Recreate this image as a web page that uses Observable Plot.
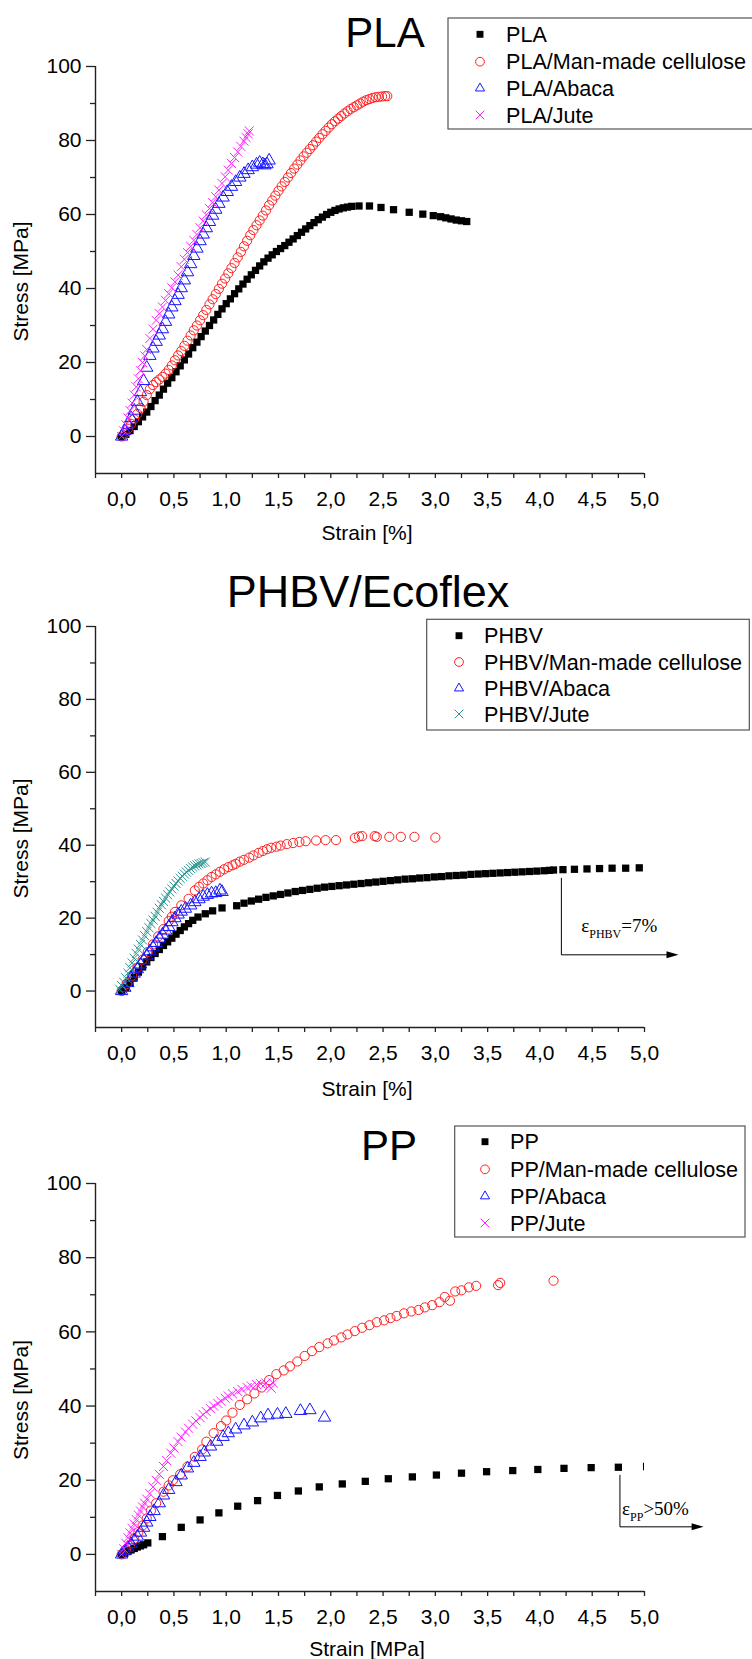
<!DOCTYPE html>
<html><head><meta charset="utf-8">
<script src="https://cdn.jsdelivr.net/npm/d3@7"></script>
<script src="https://cdn.jsdelivr.net/npm/@observablehq/plot@0.6"></script>
<style>
body{margin:0;background:#fff}
#root{position:relative;width:752px;height:1659px;overflow:hidden;background:#fff;font-family:"Liberation Sans",Arial,sans-serif}
#root svg{position:absolute;left:0}
</style></head><body><div id="root"></div>
<script>
// ---------- tick labels ----------
const xMajorTicks = [0, 0.5, 1, 1.5, 2, 2.5, 3, 3.5, 4, 4.5, 5];
const xMinorTicks = [-0.25, 0.25, 0.75, 1.25, 1.75, 2.25, 2.75, 3.25, 3.75, 4.25, 4.75];
const yMajorTicks = [0, 20, 40, 60, 80, 100];
const yMinorTicks = [10, 30, 50, 70, 90];

// ---------- titles / labels ----------
const panelTitles = ["PLA", "PHBV/Ecoflex", "PP"];
const xAxisLabels = ["Strain [%]", "Strain [%]", "Strain [MPa]"];
const yAxisLabel = "Stress [MPa]";
const legendPLA = ["PLA", "PLA/Man-made cellulose", "PLA/Abaca", "PLA/Jute"];
const legendPHBV = ["PHBV", "PHBV/Man-made cellulose", "PHBV/Abaca", "PHBV/Jute"];
const legendPP = ["PP", "PP/Man-made cellulose", "PP/Abaca", "PP/Jute"];

// ---------- PLA panel ----------
const plaNeat = [[0,0],[0.04,0.6],[0.08,1.6],[0.12,2.7],[0.16,4.0],[0.20,5.3],[0.24,6.6],[0.28,8.1],[0.32,9.7],[0.36,11.2],[0.40,12.8],[0.44,14.4],[0.48,15.9],[0.52,17.5],[0.56,19.1],[0.60,20.7],[0.64,22.3],[0.68,24.0],[0.72,25.5],[0.76,27.0],[0.80,28.5],[0.84,30.0],[0.88,31.5],[0.92,33.0],[0.96,34.5],[1.00,35.9],[1.04,37.2],[1.08,38.6],[1.12,39.9],[1.16,41.2],[1.20,42.5],[1.24,43.7],[1.28,44.9],[1.32,46.1],[1.36,47.2],[1.40,48.2],[1.44,49.1],[1.48,50.0],[1.52,50.8],[1.56,51.6],[1.60,52.5],[1.64,53.4],[1.68,54.3],[1.72,55.2],[1.76,56.1],[1.80,57.0],[1.84,57.8],[1.88,58.6],[1.92,59.3],[1.96,60.0],[2.00,60.6],[2.04,61.1],[2.08,61.5],[2.12,61.8],[2.16,62.0],[2.20,62.2],[2.27,62.3],[2.37,62.3],[2.48,61.9],[2.60,61.3],[2.75,60.6],[2.88,60.1],[2.98,59.7],[3.05,59.4],[3.10,59.1],[3.15,58.8],[3.20,58.5],[3.25,58.3],[3.30,58.1]];
const plaCellulose = [[0,0],[0.03,0.9],[0.06,2.1],[0.09,3.4],[0.12,4.7],[0.15,6.1],[0.18,7.7],[0.21,9.4],[0.24,11.2],[0.27,12.8],[0.30,13.9],[0.33,14.7],[0.36,15.4],[0.39,16.1],[0.42,17.0],[0.45,18.0],[0.48,19.2],[0.51,20.6],[0.54,21.9],[0.57,23.1],[0.60,24.5],[0.63,25.9],[0.66,27.3],[0.69,28.7],[0.72,30.0],[0.75,31.4],[0.78,32.8],[0.81,34.2],[0.84,35.7],[0.87,37.1],[0.90,38.5],[0.93,39.9],[0.96,41.3],[0.99,42.7],[1.02,44.1],[1.05,45.5],[1.08,46.9],[1.11,48.4],[1.14,49.9],[1.17,51.4],[1.20,52.9],[1.23,54.4],[1.26,55.8],[1.29,57.1],[1.32,58.4],[1.35,59.7],[1.38,61.1],[1.41,62.5],[1.44,63.8],[1.47,65.1],[1.50,66.4],[1.53,67.6],[1.56,68.8],[1.59,70.0],[1.62,71.2],[1.65,72.4],[1.68,73.5],[1.71,74.6],[1.74,75.7],[1.77,76.7],[1.80,77.7],[1.83,78.7],[1.86,79.7],[1.89,80.7],[1.92,81.7],[1.95,82.6],[1.98,83.5],[2.01,84.4],[2.04,85.2],[2.07,85.9],[2.10,86.6],[2.13,87.3],[2.16,87.9],[2.19,88.5],[2.22,89.0],[2.25,89.5],[2.28,90.0],[2.31,90.5],[2.34,90.9],[2.37,91.2],[2.40,91.5],[2.43,91.7],[2.46,91.8],[2.49,91.9],[2.52,92.0],[2.54,92.0]];
const plaAbaca = [[0,0],[0.03,1.5],[0.06,3.2],[0.09,5.0],[0.12,7.0],[0.15,9.4],[0.18,12.0],[0.21,15.0],[0.24,18.6],[0.27,21.8],[0.30,23.8],[0.33,25.6],[0.36,27.3],[0.39,29.0],[0.42,31.0],[0.45,33.0],[0.48,34.9],[0.51,36.6],[0.54,38.3],[0.57,40.1],[0.60,42.2],[0.63,44.4],[0.66,46.6],[0.69,48.8],[0.72,50.8],[0.75,52.8],[0.78,54.6],[0.81,56.3],[0.84,58.0],[0.87,59.7],[0.90,61.3],[0.93,62.9],[0.97,64.6],[1.01,66.1],[1.05,67.5],[1.09,68.8],[1.13,70.0],[1.17,71.0],[1.21,72.0],[1.25,72.8],[1.29,73.5],[1.32,74.0],[1.35,73.6],[1.37,73.3],[1.39,73.6],[1.41,74.6]];
const plaJute = [[0,0],[0.02,1.5],[0.04,3.2],[0.06,5.0],[0.08,7.0],[0.10,9.0],[0.12,11.2],[0.14,13.4],[0.16,15.6],[0.18,17.8],[0.20,20.0],[0.22,21.8],[0.24,23.5],[0.27,26.5],[0.30,29.0],[0.33,31.4],[0.36,33.2],[0.39,35.0],[0.42,36.8],[0.45,38.6],[0.48,40.2],[0.51,41.8],[0.54,43.6],[0.57,45.9],[0.60,47.9],[0.63,49.7],[0.66,51.4],[0.69,53.0],[0.72,54.6],[0.75,56.4],[0.78,58.2],[0.81,59.9],[0.84,61.6],[0.87,63.2],[0.90,64.8],[0.93,66.6],[0.96,68.4],[0.99,70.2],[1.02,72.0],[1.05,73.8],[1.08,75.4],[1.11,76.9],[1.14,78.4],[1.17,79.8],[1.19,80.8],[1.21,81.8],[1.22,82.6]];

// ---------- PHBV panel ----------
const phbvNeat = [[0,0],[0.04,1.0],[0.08,2.3],[0.12,3.8],[0.16,5.2],[0.20,6.6],[0.24,8.0],[0.28,9.2],[0.32,10.3],[0.36,11.4],[0.40,12.5],[0.44,13.5],[0.48,14.5],[0.52,15.6],[0.56,16.6],[0.60,17.6],[0.64,18.5],[0.68,19.4],[0.73,20.3],[0.80,21.2],[0.87,22.0],[0.96,22.8],[1.10,23.4],[1.17,24.1],[1.24,24.7],[1.31,25.2],[1.38,25.7],[1.45,26.1],[1.52,26.5],[1.59,26.9],[1.66,27.3],[1.73,27.6],[1.80,27.9],[1.87,28.2],[1.94,28.5],[2.01,28.7],[2.08,28.9],[2.15,29.1],[2.22,29.3],[2.29,29.5],[2.36,29.7],[2.43,29.9],[2.50,30.1],[2.57,30.3],[2.64,30.5],[2.71,30.7],[2.78,30.8],[2.85,31.0],[2.92,31.1],[2.99,31.3],[3.06,31.4],[3.13,31.6],[3.20,31.7],[3.27,31.8],[3.34,32.0],[3.41,32.1],[3.48,32.2],[3.55,32.3],[3.62,32.4],[3.69,32.5],[3.76,32.6],[3.83,32.7],[3.90,32.8],[3.97,32.9],[4.04,33.0],[4.09,33.1],[4.13,33.2],[4.22,33.3],[4.33,33.4],[4.45,33.5],[4.57,33.6],[4.69,33.7],[4.82,33.7],[4.95,33.8]];
const phbvCellulose = [[0,0],[0.05,2.0],[0.10,4.2],[0.15,6.4],[0.20,8.6],[0.25,10.7],[0.30,12.8],[0.35,15.0],[0.40,17.0],[0.45,19.2],[0.48,20.4],[0.51,21.7],[0.57,23.5],[0.64,25.3],[0.70,27.6],[0.74,28.6],[0.78,29.5],[0.82,30.4],[0.86,31.3],[0.90,32.0],[0.94,32.7],[0.98,33.4],[1.02,34.0],[1.06,34.5],[1.09,34.9],[1.13,35.5],[1.17,36.0],[1.22,36.6],[1.26,37.2],[1.31,37.9],[1.35,38.4],[1.39,38.9],[1.43,39.3],[1.48,39.6],[1.52,39.9],[1.58,40.3],[1.64,40.6],[1.70,40.9],[1.76,41.1],[1.86,41.3],[1.95,41.4],[2.05,41.4],[2.23,42.0],[2.27,42.4],[2.30,42.5],[2.42,42.5],[2.44,42.3],[2.56,42.3],[2.67,42.3],[2.80,42.3],[3.00,42.1]];
const phbvAbaca = [[0,0],[0.03,0.9],[0.06,2.2],[0.09,3.6],[0.12,4.8],[0.15,6.0],[0.18,7.3],[0.21,8.5],[0.24,9.7],[0.27,10.9],[0.30,12.0],[0.33,13.2],[0.36,14.4],[0.39,15.5],[0.42,16.6],[0.45,17.6],[0.48,18.9],[0.51,20.0],[0.54,21.0],[0.57,21.8],[0.61,22.6],[0.66,23.5],[0.70,24.4],[0.74,25.2],[0.78,25.9],[0.82,26.4],[0.86,26.8],[0.90,26.9],[0.94,27.6],[0.96,27.2]];
const phbvJute = [[-0.02,0.5],[0,1.5],[0.02,2.4],[0.04,3.6],[0.06,4.9],[0.08,6.4],[0.10,7.7],[0.12,9.0],[0.14,10.3],[0.16,11.5],[0.18,12.8],[0.20,14.0],[0.22,15.2],[0.24,16.3],[0.26,17.4],[0.28,18.5],[0.30,19.5],[0.32,20.5],[0.34,21.6],[0.36,22.7],[0.38,23.7],[0.40,24.6],[0.42,25.5],[0.44,26.4],[0.46,27.2],[0.48,28.0],[0.50,28.8],[0.52,29.5],[0.54,30.2],[0.56,30.9],[0.58,31.5],[0.60,32.1],[0.62,32.6],[0.64,33.1],[0.66,33.6],[0.68,34.0],[0.70,34.3],[0.72,34.6],[0.74,34.9],[0.76,35.0],[0.78,35.2],[0.80,35.4]];

// ---------- PP panel ----------
const ppNeat = [[0,0],[0.03,0.3],[0.06,0.8],[0.09,1.2],[0.12,1.6],[0.15,2.0],[0.18,2.3],[0.21,2.6],[0.25,3.1],[0.39,4.8],[0.57,7.3],[0.75,9.3],[0.93,11.2],[1.11,13.0],[1.30,14.5],[1.49,15.9],[1.69,17.1],[1.89,18.2],[2.11,19.0],[2.33,19.7],[2.55,20.4],[2.78,20.9],[3.01,21.4],[3.25,21.9],[3.49,22.3],[3.74,22.6],[3.98,22.9],[4.23,23.2],[4.49,23.4],[4.75,23.5],[5.02,23.7]];
const ppCellulose = [[0,0],[0.04,1.2],[0.08,2.6],[0.12,4.2],[0.16,6.0],[0.20,7.8],[0.24,9.7],[0.28,11.8],[0.33,13.8],[0.40,16.9],[0.45,18.6],[0.49,20.0],[0.56,21.6],[0.63,23.7],[0.70,26.3],[0.77,28.3],[0.81,30.4],[0.88,32.7],[0.95,34.6],[1.00,36.1],[1.06,38.2],[1.13,40.3],[1.20,41.8],[1.27,43.4],[1.34,45.0],[1.41,47.0],[1.48,48.6],[1.55,49.6],[1.61,50.7],[1.68,52.0],[1.75,53.5],[1.82,54.8],[1.89,55.9],[1.97,56.9],[2.03,57.7],[2.10,58.5],[2.16,59.3],[2.23,60.2],[2.30,61.1],[2.37,61.8],[2.44,62.6],[2.51,63.1],[2.57,63.7],[2.63,64.3],[2.70,65.0],[2.77,65.5],[2.84,65.9],[2.90,66.6],[2.97,67.2],[3.04,68.0],[3.09,69.4],[3.14,68.4],[3.19,70.9],[3.25,71.2],[3.32,72.0],[3.39,72.4],[3.60,72.6],[3.62,73.2],[4.13,73.8]];
const ppAbaca = [[0,0],[0.03,0.9],[0.06,1.8],[0.09,2.8],[0.12,3.8],[0.15,4.8],[0.18,5.9],[0.21,7.2],[0.24,8.6],[0.27,10.1],[0.31,11.7],[0.36,13.8],[0.40,15.9],[0.45,17.4],[0.52,19.5],[0.57,21.3],[0.63,23.2],[0.69,24.7],[0.75,26.3],[0.79,27.5],[0.85,29.1],[0.91,30.4],[0.97,31.7],[1.02,32.7],[1.09,33.7],[1.17,34.8],[1.25,35.6],[1.33,36.7],[1.40,37.5],[1.49,37.7],[1.57,37.9],[1.71,38.7],[1.80,38.9],[1.94,36.9]];
const ppJute = [[0,0],[0.02,1.5],[0.04,3.0],[0.06,4.5],[0.08,5.8],[0.10,7.0],[0.12,8.2],[0.14,9.4],[0.16,10.6],[0.18,11.7],[0.20,12.8],[0.22,13.8],[0.24,14.9],[0.27,16.4],[0.30,18.2],[0.33,20.0],[0.36,21.6],[0.40,23.7],[0.43,25.3],[0.47,27.3],[0.50,28.7],[0.54,30.4],[0.57,31.6],[0.61,33.0],[0.64,34.0],[0.68,35.1],[0.71,36.0],[0.75,36.9],[0.78,37.7],[0.81,38.5],[0.85,39.3],[0.88,40.0],[0.92,40.7],[0.95,41.3],[0.99,42.1],[1.02,42.7],[1.06,43.3],[1.11,43.9],[1.15,44.5],[1.20,45.0],[1.24,45.4],[1.29,45.8],[1.33,46.0],[1.38,46.2],[1.41,45.4],[1.43,44.8],[1.45,46.2]];

// ---------- annotations: [x, yTop, yBottom, xArrowEnd, xText, yText] ----------
const annotPHBV = [4.21, 30.9, 9.8, 5.33, 4.40, 16.0];
const annotPP = [4.77, 21.3, 7.3, 5.57, 4.79, 10.4];
const annotPHBVText = ["ε", "PHBV", "=7%"];
const annotPPText = ["ε", "PP", ">50%"];

// ---------- styles ----------
const styles = [
  {symbol: "square", r: 4.1, fill: "#000", stroke: "none"},
  {symbol: "circle", r: 4.6, fill: "none", stroke: "#ff2020"},
  {symbol: "triangle", r: 4.6, fill: "none", stroke: "#1515ff"},
  {symbol: "times", r: 4.2, fill: "none", stroke: "#ff20ff"}
];
const tealStyle = {symbol: "times", r: 4.2, fill: "none", stroke: "#2a9590"};

const panels = [
  {top: 0, height: 545, mt: 66, mb: 72, series: [plaNeat, plaCellulose, plaAbaca, plaJute], sty: styles,
   title: panelTitles[0], titleX: 385, titleY: 47, titleSize: 42, xlab: xAxisLabels[0], xlabY: 540, ylabShift: 12,
   legend: legendPLA, box: [448, 18, 762, 129], symX: 480, txtX: 506, rows: [34.3, 61.7, 88.3, 115]},
  {top: 560, height: 545, mt: 66, mb: 78, series: [phbvNeat, phbvCellulose, phbvAbaca, phbvJute], sty: [styles[0], styles[1], styles[2], tealStyle],
   title: panelTitles[1], titleX: 368, titleY: 606.5, titleSize: 45, xlab: xAxisLabels[1], xlabY: 1096, ylabShift: 12,
   legend: legendPHBV, box: [426.7, 619.3, 749.3, 730], symX: 459, txtX: 484, rows: [635.7, 662, 688.3, 714],
   annot: annotPHBV, annotText: annotPHBVText},
  {top: 1110, height: 549, mt: 73, mb: 68, series: [ppNeat, ppCellulose, ppAbaca, ppJute], sty: styles,
   title: panelTitles[2], titleX: 389, titleY: 1160, titleSize: 42, xlab: xAxisLabels[2], xlabY: 1656, ylabShift: 13,
   legend: legendPP, box: [454.7, 1126, 745, 1237], symX: 485, txtX: 510, rows: [1141.7, 1169.3, 1196.2, 1223],
   annot: annotPP, annotText: annotPPText}
];

const fmt = d => d.toFixed(1).replace(".", ",");
const root = document.getElementById("root");

function symbolPath(st) {
  const map = {square: d3.symbolSquare, circle: d3.symbolCircle, triangle: d3.symbolTriangle2, times: d3.symbolTimes};
  return d3.symbol(map[st.symbol], Math.PI * st.r * st.r)();
}

panels.forEach(p => {
  const marks = [
    Plot.ruleX([-0.25], {stroke: "#222", strokeWidth: 1.4}),
    Plot.ruleY([-10], {stroke: "#222", strokeWidth: 1.4}),
    Plot.axisY({ticks: yMajorTicks, tickSize: 9, tickPadding: 5, label: null, fontSize: 21, stroke: "#222", strokeWidth: 1.3, fill: "#000"}),
    Plot.axisY({ticks: yMinorTicks, tickSize: 5, tickFormat: () => "", label: null, stroke: "#222", strokeWidth: 1.3}),
    Plot.axisX({ticks: xMinorTicks, tickSize: 5, tickFormat: () => "", label: null, stroke: "#222", strokeWidth: 1.3}),
    Plot.axisX({ticks: xMajorTicks, tickSize: 5, tickPadding: 13, tickFormat: fmt, label: null, fontSize: 21, stroke: "#222", strokeWidth: 1.3, fill: "#000"})
  ];
  p.series.forEach((data, i) => {
    const st = p.sty[i];
    marks.push(Plot.dot(data, {x: d => d[0], y: d => d[1], symbol: st.symbol, r: st.r, fill: st.fill, stroke: st.stroke, strokeWidth: 1, clip: true}));
  });
  const svg = Plot.plot({
    width: 752, height: p.height,
    marginLeft: 95, marginRight: 108, marginTop: p.mt, marginBottom: p.mb,
    x: {domain: [-0.25, 5]},
    y: {domain: [-10, 100]},
    style: {fontFamily: "'Liberation Sans', Arial, sans-serif", fontSize: "21px", background: "transparent", overflow: "visible", color: "#000"},
    marks
  });
  svg.style.top = p.top + "px";
  root.appendChild(svg);
  const s = d3.select(svg);
  const o = p.top;
  const xs = svg.scale("x"), ys = svg.scale("y");
  const g = s.append("g").attr("font-family", "'Liberation Sans', Arial, sans-serif").attr("fill", "#000").attr("text-anchor", "start");
  // title
  g.append("text").attr("x", p.titleX).attr("y", p.titleY - o).attr("text-anchor", "middle")
    .attr("font-size", p.titleSize).text(p.title);
  // x label
  g.append("text").attr("x", 367).attr("y", p.xlabY - o).attr("text-anchor", "middle")
    .attr("font-size", 21).text(p.xlab);
  // y label
  const cy = (ys.apply(100) + ys.apply(-10)) / 2 + p.ylabShift;
  g.append("text").attr("transform", `translate(28,${cy}) rotate(-90)`).attr("text-anchor", "middle")
    .attr("font-size", 21).text(yAxisLabel);
  // legend
  const [bx0, by0, bx1, by1] = p.box;
  g.append("rect").attr("x", bx0).attr("y", by0 - o).attr("width", bx1 - bx0).attr("height", by1 - by0)
    .attr("fill", "#fff").attr("stroke", "#555").attr("stroke-width", 1.2);
  p.legend.forEach((name, i) => {
    const st = p.sty[i];
    const yy = p.rows[i] - o;
    g.append("path").attr("d", symbolPath({symbol: st.symbol, r: st.r * 0.95}))
      .attr("transform", `translate(${p.symX},${yy})`)
      .attr("fill", st.fill).attr("stroke", st.stroke).attr("stroke-width", 1);
    g.append("text").attr("x", p.txtX).attr("y", yy + 7.6).attr("text-anchor", "start").attr("font-size", 21.6).text(name);
  });
  // annotation
  if (p.annot) {
    const [ax, ayT, ayB, axE, tx, ty] = p.annot;
    const X = xs.apply(ax), YT = ys.apply(ayT), YB = ys.apply(ayB), XE = xs.apply(axE);
    g.append("path").attr("d", `M${X},${YT}V${YB}H${XE - 8}`).attr("fill", "none").attr("stroke", "#000").attr("stroke-width", 1);
    g.append("path").attr("d", `M${XE},${YB}L${XE - 12},${YB - 3.5}L${XE - 12},${YB + 3.5}Z`).attr("fill", "#000");
    const t = g.append("text").attr("x", xs.apply(tx)).attr("y", ys.apply(ty)).attr("text-anchor", "start")
      .attr("font-family", "'Liberation Serif', 'Times New Roman', serif").attr("font-size", 19);
    t.append("tspan").text(p.annotText[0]);
    t.append("tspan").attr("font-size", 12).attr("dy", 6).text(p.annotText[1]);
    t.append("tspan").attr("dy", -6).text(p.annotText[2]);
  }
});
</script></body></html>
